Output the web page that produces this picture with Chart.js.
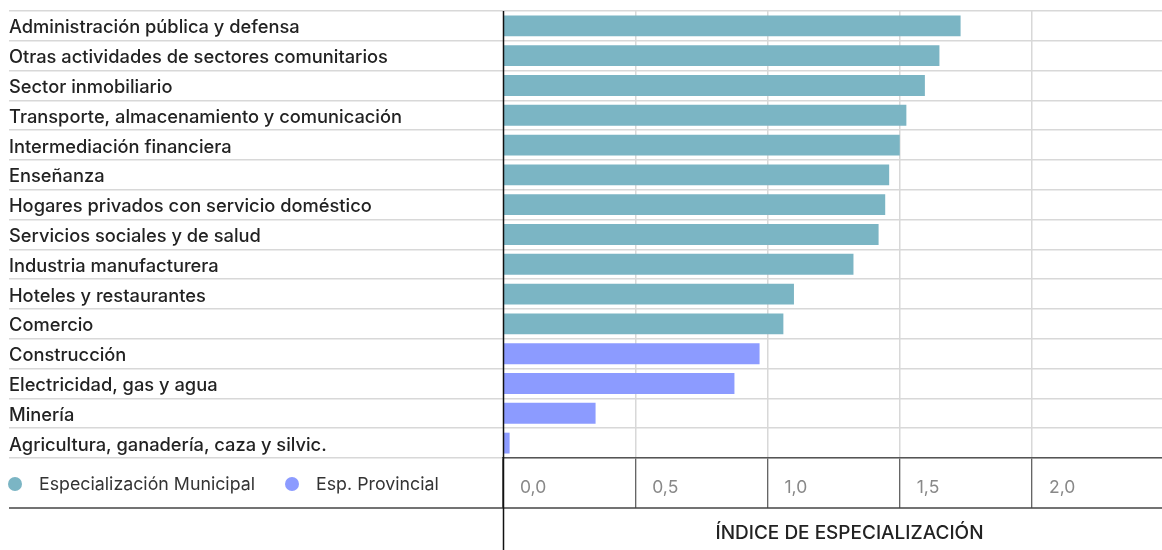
<!DOCTYPE html>
<html>
<head>
<meta charset="utf-8">
<script src="https://cdn.jsdelivr.net/npm/chart.js@4.4.1/dist/chart.umd.min.js"></script>
<style>
  html, body { margin: 0; padding: 0; background: #fff; overflow: hidden; width: 1162px; height: 550px; }
  #wrap { position: relative; width: 1196px; height: 550px; }
  #legend { position: absolute; left: 8px; top: 473px; display: flex; align-items: center;
            font-family: Inter, "Noto Sans", sans-serif; font-size: 17.8px; color: #333; }
  .item { display: flex; align-items: center; margin-right: 30px; }
  .dot { width: 14px; height: 14px; border-radius: 50%; margin-right: 17px; }
</style>
</head>
<body>
<div id="wrap">
  <canvas id="c" width="1196" height="550"></canvas>
  <div id="legend"></div>
</div>
<script>
const categories = [
  'Administración pública y defensa',
  'Otras actividades de sectores comunitarios',
  'Sector inmobiliario',
  'Transporte, almacenamiento y comunicación',
  'Intermediación financiera',
  'Enseñanza',
  'Hogares privados con servicio doméstico',
  'Servicios sociales y de salud',
  'Industria manufacturera',
  'Hoteles y restaurantes',
  'Comercio',
  'Construcción',
  'Electricidad, gas y agua',
  'Minería',
  'Agricultura, ganadería, caza y silvic.'
];
const municipalValues = [1.73, 1.65, 1.595, 1.525, 1.50, 1.46, 1.445, 1.42, 1.325, 1.10, 1.06];
const provincialValues = [0.97, 0.875, 0.35, 0.025];
const tickValues = [0, 0.5, 1.0, 1.5, 2.0];
const tickLabels = ['0,0', '0,5', '1,0', '1,5', '2,0'];
const seriesNames = ['Especialización Municipal', 'Esp. Provincial'];
const seriesColors = ['#7bb5c4', '#8c9bff'];
const axisTitle = 'ÍNDICE DE ESPECIALIZACIÓN';

const municipalData = categories.map((c, i) => i < municipalValues.length ? municipalValues[i] : null);
const provincialData = categories.map((c, i) => i >= municipalValues.length ? provincialValues[i - municipalValues.length] : null);

const FONT = 'Inter, "Noto Sans", sans-serif';

const extraLines = {
  id: 'extraLines',
  afterDraw(chart) {
    const ctx = chart.ctx;
    const xs = chart.scales.x;
    const x0 = Math.round(xs.getPixelForValue(0)) + 0.5;
    ctx.save();
    ctx.strokeStyle = '#444';
    ctx.lineWidth = 1.5;
    ctx.beginPath();
    ctx.moveTo(9, xs.top + 50);
    ctx.lineTo(chart.width, xs.top + 50);
    ctx.stroke();
    ctx.strokeStyle = '#111';
    ctx.lineWidth = 1.5;
    ctx.beginPath();
    ctx.moveTo(x0, chart.chartArea.top);
    ctx.lineTo(x0, chart.height);
    ctx.stroke();
    ctx.restore();
  }
};

const chart = new Chart(document.getElementById('c'), {
  type: 'bar',
  data: {
    labels: categories,
    datasets: [
      { label: seriesNames[0], data: municipalData, backgroundColor: seriesColors[0], grouped: false,
        categoryPercentage: 1, barPercentage: 0.7 },
      { label: seriesNames[1], data: provincialData, backgroundColor: seriesColors[1], grouped: false,
        categoryPercentage: 1, barPercentage: 0.7 }
    ]
  },
  options: {
    indexAxis: 'y',
    responsive: false,
    animation: false,
    layout: { padding: { left: 9, top: 9, right: 0, bottom: 0 } },
    plugins: { legend: { display: false }, tooltip: { enabled: false } },
    scales: {
      y: {
        afterFit(s) { s.width = 494; },
        grid: {
          offset: true,
          color: ctx => ctx.index === categories.length ? '#555' : '#d8d8d8',
          tickColor: ctx => ctx.index === categories.length ? '#555' : '#d8d8d8',
          lineWidth: 1.5,
          tickLength: 494,
          drawTicks: true
        },
        border: { display: false },
        ticks: {
          autoSkip: false,
          crossAlign: 'far',
          padding: 0,
          labelOffset: 2,
          color: '#222',
          font: { family: FONT, size: 18.3, weight: '500' }
        }
      },
      x: {
        min: 0,
        max: 2.62,
        afterFit(s) { s.height = 92; },
        afterBuildTicks(s) { s.ticks = tickValues.map(v => ({ value: v })); },
        grid: {
          color: ctx => ctx.index === 0 ? 'rgba(0,0,0,0)' : '#d8d8d8',
          lineWidth: 1.5,
          tickColor: '#333',
          tickWidth: 1,
          tickLength: 50
        },
        border: { display: true, color: '#555', width: 1.5 },
        ticks: {
          align: 'start',
          labelOffset: 17,
          padding: -31,
          color: '#888',
          font: { family: FONT, size: 17.5 },
          callback: (v, i) => tickLabels[i]
        },
        title: {
          display: true,
          text: axisTitle,
          color: '#222',
          font: { family: FONT, size: 19, weight: '500' },
          padding: { top: 0, bottom: 5 }
        }
      }
    }
  },
  plugins: [extraLines]
});

const legendEl = document.getElementById('legend');
chart.data.datasets.forEach(ds => {
  const item = document.createElement('div');
  item.className = 'item';
  const dot = document.createElement('span');
  dot.className = 'dot';
  dot.style.background = ds.backgroundColor;
  const txt = document.createElement('span');
  txt.textContent = ds.label;
  item.appendChild(dot);
  item.appendChild(txt);
  legendEl.appendChild(item);
});
</script>
</body>
</html>
